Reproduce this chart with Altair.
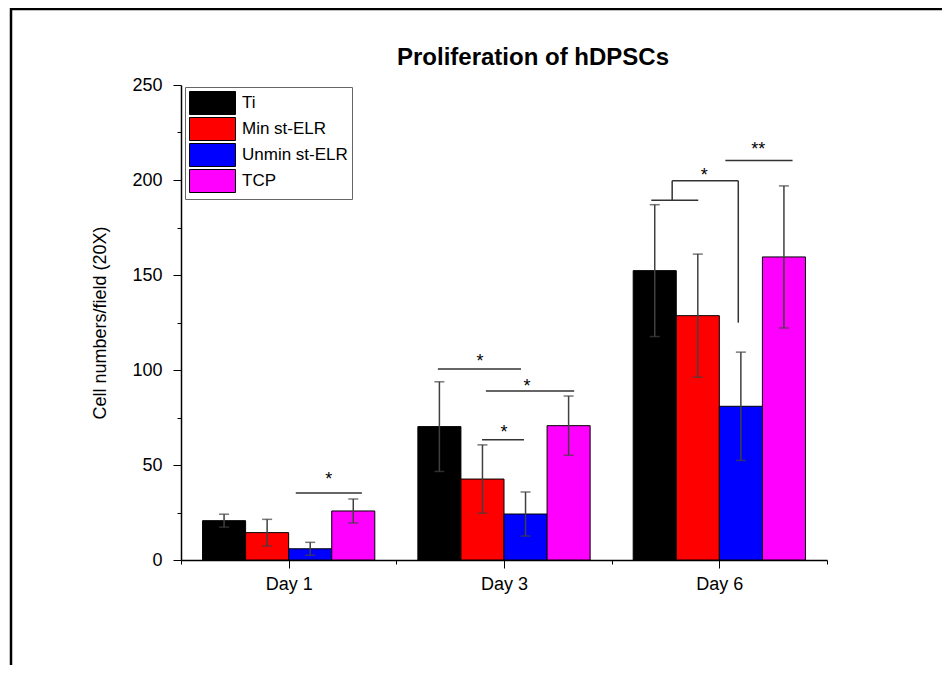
import altair as alt
import pandas as pd

FONT = "Liberation Sans"

days = ["Day 1", "Day 3", "Day 6"]
groups = ["Ti", "Min st-ELR", "Unmin st-ELR", "TCP"]
colors = ["#000000", "#FF0000", "#0000FF", "#FF00FF"]

ti_mean = [20.7, 70.2, 152.3]
ti_err = [3.4, 23.6, 34.7]
min_mean = [14.4, 42.6, 128.6]
min_err = [7.0, 18.0, 32.4]
unmin_mean = [5.9, 24.2, 80.9]
unmin_err = [3.4, 11.6, 28.5]
tcp_mean = [25.8, 70.7, 159.5]
tcp_err = [6.3, 15.6, 37.4]

# significance annotation segments (data coordinates)
seg_x1 = [1.033, 1.693, 1.916, 1.898, 2.684, 2.781, 2.781, 3.088, 3.028]
seg_x2 = [1.340, 2.079, 2.326, 2.093, 2.902, 2.781, 3.088, 3.088, 3.340]
seg_y1 = [35.3, 100.5, 88.9, 63.3, 189.3, 189.3, 199.6, 199.6, 210.2]
seg_y2 = [35.3, 100.5, 88.9, 63.3, 189.3, 199.6, 199.6, 124.9, 210.2]
star_text = ["*", "*", "*", "*", "*", "**"]
star_x = [1.186, 1.889, 2.107, 2.0, 2.93, 3.181]
star_y = [42.1, 104.2, 91.1, 66.8, 202.3, 215.8]

means = [ti_mean, min_mean, unmin_mean, tcp_mean]
errs = [ti_err, min_err, unmin_err, tcp_err]
rows = []
for gi, g in enumerate(groups):
    for di, d in enumerate(days):
        c = di + 1 + (gi - 1.5) * 0.2
        m, e = means[gi][di], errs[gi][di]
        rows.append({"group": g, "day": d, "xc": c, "x1": c - 0.1, "x2": c + 0.1,
                     "mean": m, "lo": m - e, "hi": m + e})
df = pd.DataFrame(rows)
seg_df = pd.DataFrame({"x1": seg_x1, "x2": seg_x2, "y1": seg_y1, "y2": seg_y2})
star_df = pd.DataFrame({"t": star_text, "x": star_x, "y": star_y})

label_expr = " : ".join(
    f"datum.value == {i + 1} ? '{d}'" for i, d in enumerate(days)) + " : ''"

xscale = alt.Scale(domain=[0.5, 3.5], nice=False, zero=False)
yscale = alt.Scale(domain=[0, 250], nice=False)

xaxis = alt.Axis(values=[0.5, 1, 1.5, 2, 2.5, 3, 3.5], labelExpr=label_expr, title=None,
                 grid=False, domainColor="#000", domainWidth=1.5, tickColor="#000",
                 tickSize={"condition": {"test": "datum.value % 1 === 0", "value": 8}, "value": 4},
                 labelFont=FONT, labelFontSize=18, labelColor="#000", labelPadding=7,
                 labelFlush=False, labelOverlap=False)
yaxis = alt.Axis(values=list(range(0, 251, 25)),
                 labelExpr="datum.value % 50 === 0 ? datum.label : ''",
                 title="Cell numbers/field (20X)", titleFont=FONT, titleFontSize=18,
                 titleFontWeight="normal", titleColor="#000", titlePadding=22,
                 grid=False, domainColor="#000", domainWidth=1.5, tickColor="#000",
                 tickSize={"condition": {"test": "datum.value % 50 === 0", "value": 8}, "value": 4},
                 labelFont=FONT, labelFontSize=18, labelColor="#000", labelPadding=11,
                 labelFlush=False, labelOverlap=False)

bars = alt.Chart(df).mark_bar(stroke="#000", strokeWidth=1).encode(
    x=alt.X("x1:Q", scale=xscale, axis=xaxis),
    x2="x2:Q",
    y=alt.Y("mean:Q", scale=yscale, axis=yaxis),
    y2=alt.datum(0),
    color=alt.Color("group:N", scale=alt.Scale(domain=groups, range=colors),
                    legend=alt.Legend(title=None, orient="none", legendX=4, legendY=2,
                                      symbolType="M-1,-1L3,-1L3,1L-1,1Z", symbolSize=529,
                                      symbolStrokeColor="#000", symbolStrokeWidth=1,
                                      labelOffset=29, labelFont=FONT, labelFontSize=17,
                                      labelColor="#000", rowPadding=-6, padding=4,
                                      strokeColor="#666", fillColor="#fff")),
)

err_rule = alt.Chart(df).mark_rule(color="#404040", strokeWidth=1.5).encode(
    x="xc:Q", y="lo:Q", y2="hi:Q")
cap_hi = alt.Chart(df).mark_tick(color="#404040", orient="horizontal", size=10, thickness=1.5).encode(
    x="xc:Q", y="hi:Q")
cap_lo = alt.Chart(df).mark_tick(color="#404040", orient="horizontal", size=10, thickness=1.5).encode(
    x="xc:Q", y="lo:Q")

segs = alt.Chart(seg_df).mark_rule(color="#333", strokeWidth=1.5).encode(
    x="x1:Q", x2="x2:Q", y="y1:Q", y2="y2:Q")
stars = alt.Chart(star_df).mark_text(font=FONT, fontSize=18, color="#000", baseline="middle").encode(
    x="x:Q", y="y:Q", text="t:N")

frame_df = pd.DataFrame({"a": [0]})
frame_left = alt.Chart(frame_df).mark_rule(color="#000", strokeWidth=2.5).encode(
    x=alt.value(-170), y=alt.value(-77), y2=alt.value(600))
frame_top = alt.Chart(frame_df).mark_rule(color="#000", strokeWidth=2.5).encode(
    x=alt.value(-171), x2=alt.value(800), y=alt.value(-76))

chart = alt.layer(bars, err_rule, cap_hi, cap_lo, segs, stars, frame_left, frame_top).properties(
    width=646, height=475,
    autosize="none",
    padding={"left": 173, "top": 77, "right": 115, "bottom": 105},
    title=alt.Title("Proliferation of hDPSCs", font=FONT, fontSize=24, fontWeight="bold",
                    color="#000", anchor="middle", frame="group", dx=29, offset=-63),
    background="#ffffff",
).configure_view(stroke=None)

chart.save("out.html", embed_options={"renderer": "svg", "actions": False})
